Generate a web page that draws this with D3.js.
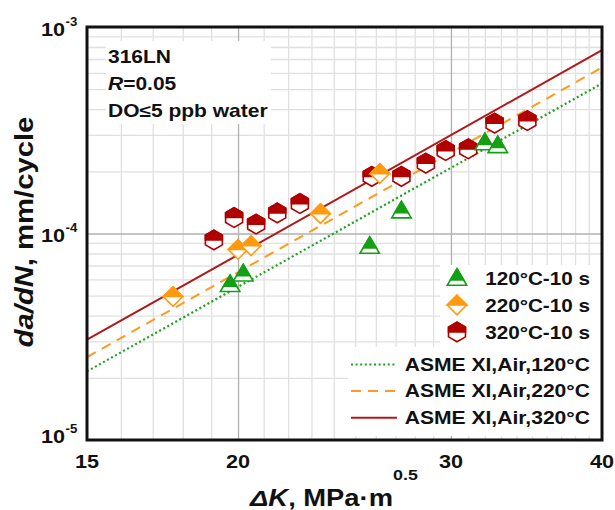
<!DOCTYPE html>
<html><head><meta charset="utf-8">
<script src="https://cdn.jsdelivr.net/npm/d3@7"></script>
<style>
html,body{margin:0;padding:0;background:#fff;}
text{font-family:'Liberation Sans',Arial,sans-serif;font-weight:bold;fill:#111;}
</style>
</head><body><svg id="c" width="615" height="510"></svg>
<script>
// ---------- data ----------
const xTickValues = [15, 20, 30, 40];
const xTickLabels = ["15", "20", "30", "40"];
const yTickValues = [1e-3, 1e-4, 1e-5];
const yTickExps = ["-3", "-4", "-5"];

const dK120   = [19.7, 20.2, 25.7, 27.3, 32.0, 32.8];
const rate120 = [5.74e-5, 6.46e-5, 8.79e-5, 1.305e-4, 2.79e-4, 2.70e-4];

const dK220   = [17.67, 20.0, 20.5, 23.4, 26.2];
const rate220 = [4.95e-5, 8.37e-5, 8.72e-5, 1.248e-4, 1.95e-4];

const dK320   = [19.1, 19.85, 20.7, 21.55, 22.5, 25.8, 27.3, 28.6, 29.7, 31.0, 32.6, 34.7];
const rate320 = [9.3e-5, 1.195e-4, 1.11e-4, 1.257e-4, 1.396e-4, 1.89e-4, 1.89e-4, 2.19e-4, 2.52e-4, 2.57e-4, 3.42e-4, 3.52e-4];

const asmeDK  = [15, 40];
const asme120 = [2.15e-5, 5.33e-4];
const asme220 = [2.52e-5, 6.37e-4];
const asme320 = [3.06e-5, 7.72e-4];

const markerLabels = ["120°C-10 s", "220°C-10 s", "320°C-10 s"];
const lineLabels = ["ASME XI,Air,120°C", "ASME XI,Air,220°C", "ASME XI,Air,320°C"];

// ---------- layout / style ----------
const L = 87, R = 602, T = 27, B = 440;
const GREEN = "#14a014", ORANGE = "#ff9a10", RED = "#b00000";
const LRED = "#b01818", LORANGE = "#ff9a1e", LGREEN = "#1ea01e";

const svg = d3.select("#c");
const x = d3.scaleLog().domain([15, 40]).range([L, R]);
const y = d3.scaleLog().domain([1e-5, 1e-3]).range([B, T]);

// ---------- grid ----------
const xMinor = d3.range(16, 40).filter(v => v !== 20 && v !== 30);
const yMinor = [];
[1e-5, 1e-4].forEach(d => { for (let k = 2; k <= 9; k++) yMinor.push(k * d); });

function grid(axis, vals, color, w) {
  const g = svg.append("g");
  if (axis === "x") {
    g.attr("transform", `translate(0,${B})`)
     .call(d3.axisBottom(x).tickValues(vals).tickSize(-(B - T)).tickFormat(""));
  } else {
    g.attr("transform", `translate(${L},0)`)
     .call(d3.axisLeft(y).tickValues(vals).tickSize(-(R - L)).tickFormat(""));
  }
  g.select(".domain").remove();
  g.selectAll("line").attr("stroke", color).attr("stroke-width", w);
}
grid("x", xMinor, "#e0e0e0", 1.3);
grid("y", yMinor, "#e0e0e0", 1.3);
grid("x", [20, 30], "#b0b0b0", 1.3);
grid("y", [1e-4], "#b0b0b0", 1.3);

// white backgrounds for note and legend
svg.append("rect").attr("x", 106).attr("y", 41).attr("width", 165).attr("height", 83).attr("fill", "#fff");
svg.append("rect").attr("x", 440).attr("y", 265).attr("width", R - 440).attr("height", 82).attr("fill", "#fff");
svg.append("rect").attr("x", 348).attr("y", 347).attr("width", R - 348).attr("height", 89).attr("fill", "#fff");

// ---------- ASME lines ----------
const lineGen = d3.line().x(d => x(d[0])).y(d => y(d[1]));
const lineSpecs = [
  { vals: asme120, color: LGREEN, dash: "2,2.6", w: 2.2 },
  { vals: asme220, color: LORANGE, dash: "10,7", w: 2 },
  { vals: asme320, color: LRED, dash: null, w: 2 }
];
lineSpecs.forEach(s => {
  svg.append("path").datum(asmeDK.map((k, i) => [k, s.vals[i]]))
    .attr("d", lineGen).attr("fill", "none").attr("stroke", s.color)
    .attr("stroke-width", s.w).attr("stroke-dasharray", s.dash);
});

// ---------- markers ----------
function pts(a) { return a.map(p => p.join(",")).join(" "); }
function shapes(type) {
  if (type === "tri") {
    const w = 19.5, h = 16.5, f = 0.68;
    return {
      full: [[0, -h / 2], [w / 2, h / 2], [-w / 2, h / 2]],
      top: [[0, -h / 2], [w / 2 * f, -h / 2 + h * f], [-w / 2 * f, -h / 2 + h * f]]
    };
  }
  if (type === "dia") {
    const w = 19.5, h = 19.5;
    return {
      full: [[0, -h / 2], [w / 2, 0], [0, h / 2], [-w / 2, 0]],
      top: [[0, -h / 2], [w / 2, 0], [-w / 2, 0]]
    };
  }
  const r = 9.8, c = r * Math.cos(Math.PI / 6);
  return {
    full: [[0, -r], [c, -r / 2], [c, r / 2], [0, r], [-c, r / 2], [-c, -r / 2]],
    top: [[0, -r], [c, -r / 2], [c, 0], [-c, 0], [-c, -r / 2]]
  };
}
function marker(g, type, color) {
  const s = shapes(type);
  g.append("polygon").attr("points", pts(s.full)).attr("fill", "#fff")
    .attr("stroke", color).attr("stroke-width", 1.6).attr("stroke-linejoin", "miter");
  g.append("polygon").attr("points", pts(s.top)).attr("fill", color)
    .attr("stroke", color).attr("stroke-width", 1.6).attr("stroke-linejoin", "miter");
}
const seriesSpecs = [
  { dk: dK320, r: rate320, type: "hex", color: RED },
  { dk: dK220, r: rate220, type: "dia", color: ORANGE },
  { dk: dK120, r: rate120, type: "tri", color: GREEN }
];
seriesSpecs.forEach(s => {
  svg.append("g").selectAll("g").data(s.dk.map((k, i) => [k, s.r[i]])).join("g")
    .attr("transform", d => `translate(${x(d[0])},${y(d[1])})`)
    .each(function () { marker(d3.select(this), s.type, s.color); });
});

// ---------- frame ----------
svg.append("rect").attr("x", L).attr("y", T).attr("width", R - L).attr("height", B - T)
  .attr("fill", "none").attr("stroke", "#111").attr("stroke-width", 3);

// ---------- text helper ----------
function label(px, py, parts, o) {
  const t = svg.append("text")
    .attr("transform", `translate(${px},${py})` + (o.rot ? ` rotate(${o.rot})` : "") + ` scale(${o.sx || 1},1)`)
    .attr("text-anchor", o.anchor || "start")
    .style("font-size", o.size + "px");
  parts.forEach(p => {
    const s = t.append("tspan").text(p.t);
    if (p.i) s.style("font-style", "italic");
    if (p.fs) s.style("font-size", p.fs + "px");
    if (p.dy) s.attr("dy", p.dy);
  });
  return t;
}

// x tick labels
xTickValues.forEach((v, i) => label(x(v), 468, [{ t: xTickLabels[i] }], { size: 18.5, sx: 1.17, anchor: "middle" }));
// y tick labels
yTickValues.forEach((v, i) => {
  const base = y(v) + (i === yTickValues.length - 1 ? 3 : 8.5);
  label(65, base, [{ t: "10" }], { size: 18.5, sx: 1.17, anchor: "end" });
  label(65.5, base - 10, [{ t: yTickExps[i] }], { size: 12, sx: 1.1 });
});

// axis titles
label(250, 506, [{ t: "ΔK", i: true }, { t: ", MPa·m" }, { t: "0.5", fs: 15, dy: -26 }], { size: 23, sx: 1.19 });
label(33, 232, [{ t: "da/dN", i: true }, { t: ", mm/cycle" }], { size: 25, sx: 1.17, anchor: "middle", rot: -90 });

// note
label(108, 63, [{ t: "316LN" }], { size: 17.5, sx: 1.2 });
label(108, 89.5, [{ t: "R", i: true }, { t: "=0.05" }], { size: 17.5, sx: 1.2 });
label(108, 116.5, [{ t: "DO≤5 ppb water" }], { size: 17.5, sx: 1.2 });

// legend – markers
const legTypes = [["tri", GREEN], ["dia", ORANGE], ["hex", RED]];
const legMarkY = [277, 305, 332];
const legMarkTextY = [285, 312.3, 338.5];
legTypes.forEach((m, i) => {
  marker(svg.append("g").attr("transform", `translate(457,${legMarkY[i]})`), m[0], m[1]);
  label(590, legMarkTextY[i], [{ t: markerLabels[i] }], { size: 18, sx: 1.15, anchor: "end" });
});
// legend – lines
const legLineY = [364.5, 391, 417.7];
const legLineTextY = [370.5, 397, 423.5];
lineSpecs.forEach((s, i) => {
  svg.append("line").attr("x1", 351).attr("x2", 397).attr("y1", legLineY[i]).attr("y2", legLineY[i])
    .attr("stroke", s.color).attr("stroke-width", s.w).attr("stroke-dasharray", s.dash);
  label(590, legLineTextY[i], [{ t: lineLabels[i] }], { size: 19, sx: 1.11, anchor: "end" });
});
</script>
</body></html>
